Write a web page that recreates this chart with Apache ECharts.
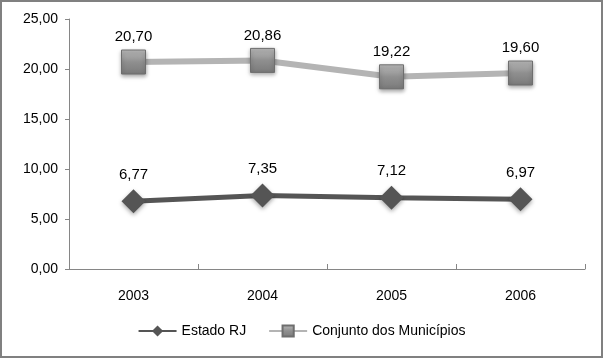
<!DOCTYPE html>
<html><head><meta charset="utf-8">
<script src="https://cdn.jsdelivr.net/npm/echarts@6/dist/echarts.min.js"></script>
<style>html,body{margin:0;padding:0;background:#fff}#c{width:603px;height:358px}</style>
</head><body><div id="c"></div>
<script>
var categories = ['2003', '2004', '2005', '2006'];
var estadoRJ = [6.77, 7.35, 7.12, 6.97];
var conjuntoMunicipios = [20.70, 20.86, 19.22, 19.60];
var seriesNames = ['Estado RJ', 'Conjunto dos Municípios'];
var yTicks = [0, 5, 10, 15, 20, 25];

var fmt = function (v) { return v.toFixed(2).replace('.', ','); };
var chart = echarts.init(document.getElementById('c'));
chart.setOption({
  animation: false,
  textStyle: { fontFamily: 'Liberation Sans, Arial, sans-serif' },
  graphic: [{ type: 'rect', shape: { x: 1, y: 1, width: 601, height: 356 }, style: { fill: 'none', stroke: '#808080', lineWidth: 2 }, z: 100 }],
  grid: { left: 69, right: 18, top: 19, bottom: 89 },
  legend: {
    bottom: 15, left: 'center', itemWidth: 38, itemHeight: 14, itemGap: 22,
    textStyle: { fontSize: 14, color: '#000' },
    data: [seriesNames[0], seriesNames[1]]
  },
  xAxis: {
    type: 'category', data: categories, boundaryGap: true,
    axisLine: { lineStyle: { color: '#868686' } },
    axisTick: { show: true, length: 5, inside: true, lineStyle: { color: '#868686' } },
    axisLabel: { fontSize: 14, color: '#000', margin: 20 }
  },
  yAxis: {
    type: 'value', min: yTicks[0], max: yTicks[yTicks.length - 1], interval: 5,
    axisLine: { show: true, lineStyle: { color: '#868686' } },
    axisTick: { show: true, length: 4, lineStyle: { color: '#868686' } },
    splitLine: { show: false },
    axisLabel: { fontSize: 14, color: '#000', margin: 11, formatter: function (v) { return fmt(v); } }
  },
  series: [
    {
      name: seriesNames[0], type: 'line', data: estadoRJ,
      symbol: 'diamond', symbolSize: 24,
      lineStyle: { color: '#555555', width: 5 },
      itemStyle: { color: '#555555', shadowColor: 'rgba(0,0,0,0.35)', shadowBlur: 4, shadowOffsetY: 2 },
      label: { show: true, position: 'top', distance: 7, fontSize: 15, color: '#000', formatter: function (p) { return fmt(p.value); } }
    },
    {
      name: seriesNames[1], type: 'line', data: conjuntoMunicipios,
      symbol: 'rect', symbolSize: 24,
      lineStyle: { color: '#b4b4b4', width: 6 },
      itemStyle: {
        color: new echarts.graphic.LinearGradient(0, 0, 0, 1, [
          { offset: 0, color: '#bdbdbd' }, { offset: 0.5, color: '#8f8f8f' }, { offset: 1, color: '#7a7a7a' }
        ]),
        borderColor: '#6e6e6e', borderWidth: 1,
        shadowColor: 'rgba(0,0,0,0.35)', shadowBlur: 4, shadowOffsetY: 2
      },
      label: { show: true, position: 'top', distance: 5, fontSize: 15, color: '#000', formatter: function (p) { return fmt(p.value); } }
    }
  ]
});
</script></body></html>
